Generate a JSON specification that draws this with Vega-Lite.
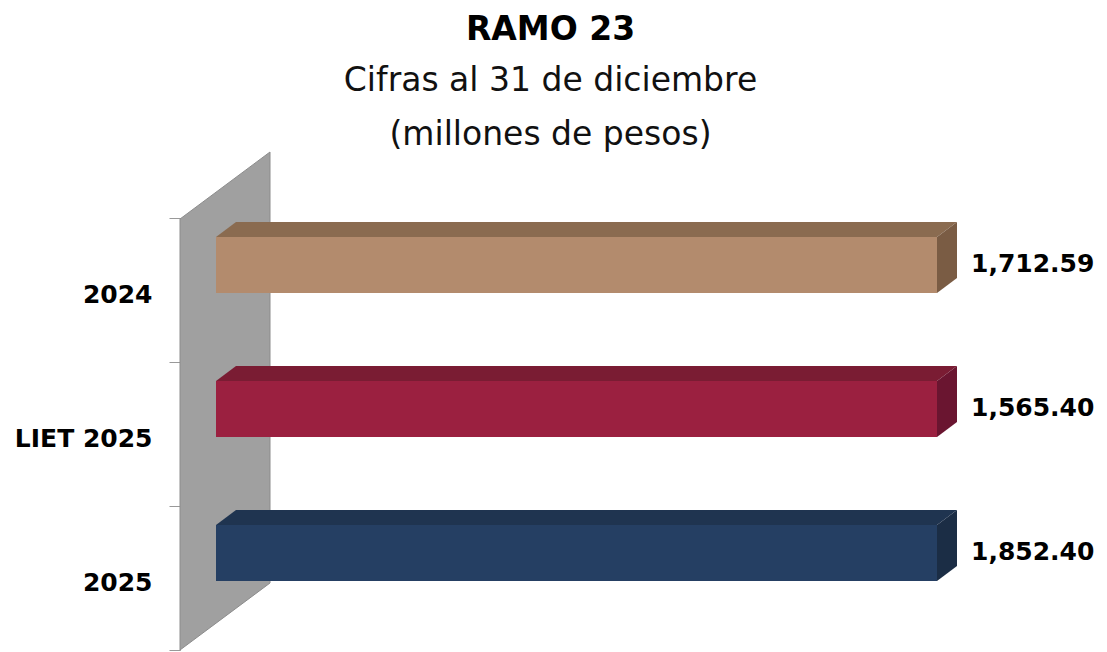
{
  "$schema": "https://vega.github.io/schema/vega-lite/v6.json",
  "width": 721,
  "height": 432,
  "autosize": {"type": "none"},
  "padding": {"left": 216, "top": 218, "right": 170, "bottom": 2},
  "background": "white",
  "config": {"view": {"stroke": null}, "font": "DejaVu Sans"},
  "title": {
    "text": "RAMO 23",
    "subtitle": ["Cifras al 31 de diciembre", "(millones de pesos)"],
    "anchor": "middle",
    "frame": "group",
    "dx": -26,
    "font": "DejaVu Sans",
    "fontSize": 33,
    "fontWeight": "bold",
    "color": "#000000",
    "subtitleFont": "DejaVu Sans",
    "subtitleFontSize": 33,
    "subtitleColor": "#111111",
    "subtitleLineHeight": 54,
    "subtitlePadding": 18,
    "offset": -2
  },
  "data": {
    "values": [
      {"periodo": "2024", "monto": 1712.59},
      {"periodo": "LIET 2025", "monto": 1565.40},
      {"periodo": "2025", "monto": 1852.40}
    ]
  },
  "encoding": {
    "y": {
      "field": "periodo",
      "type": "nominal",
      "scale": {"domain": ["2024", "LIET 2025", "2025"], "paddingInner": 0, "paddingOuter": 0},
      "axis": {
        "title": null,
        "offset": 36,
        "tickBand": "extent",
        "tickSize": 11,
        "tickColor": "#999999",
        "domainColor": "#8C8C8C",
        "domainWidth": 1,
        "labelFont": "DejaVu Sans",
        "labelFontSize": 25,
        "labelFontWeight": "bold",
        "labelColor": "#000000",
        "labelPadding": 17,
        "labelOffset": 4,
        "labelBaseline": "middle"
      }
    }
  },
  "layer": [
    {
      "transform": [{"filter": "datum.periodo === '2024'"}],
      "mark": {"type": "point", "shape": "M-36,-71L54,-138L54,293L-36,360Z", "size": 4, "filled": true, "fill": "#A0A0A0", "opacity": 1, "stroke": "#8C8C8C", "strokeWidth": 1},
      "encoding": {
        "x": {"datum": 0, "type": "quantitative", "scale": {"domain": [0, 1], "nice": false, "zero": false}, "axis": null}
      }
    },
    {
      "mark": {"type": "bar", "height": 56, "yOffset": -25},
      "encoding": {
        "color": {
          "field": "periodo",
          "type": "nominal",
          "scale": {"domain": ["2024", "LIET 2025", "2025"], "range": ["#B38B6D", "#9B2040", "#253F63"]},
          "legend": null
        }
      }
    },
    {
      "mark": {"type": "point", "shape": "M0,-53L721,-53L741,-68L20,-68Z", "size": 4, "filled": true, "opacity": 1},
      "encoding": {
        "x": {"datum": 0, "type": "quantitative", "scale": {"domain": [0, 1], "nice": false, "zero": false}, "axis": null},
        "color": {
          "field": "periodo",
          "type": "nominal",
          "scale": {"domain": ["2024", "LIET 2025", "2025"], "range": ["#8A6B50", "#7A1C33", "#1F3450"]},
          "legend": null
        }
      }
    },
    {
      "mark": {"type": "point", "shape": "M721,-53L741,-68L741,-12L721,3Z", "size": 4, "filled": true, "opacity": 1},
      "encoding": {
        "x": {"datum": 0, "type": "quantitative", "scale": {"domain": [0, 1], "nice": false, "zero": false}, "axis": null},
        "color": {
          "field": "periodo",
          "type": "nominal",
          "scale": {"domain": ["2024", "LIET 2025", "2025"], "range": ["#7A5C44", "#6A1530", "#1B2D45"]},
          "legend": null
        }
      }
    },
    {
      "mark": {"type": "text", "align": "left", "baseline": "middle", "dx": 34, "yOffset": -26, "font": "DejaVu Sans", "fontWeight": "bold", "fontSize": 25, "color": "#000000"},
      "encoding": {
        "x": {"datum": 1, "type": "quantitative", "scale": {"domain": [0, 1], "nice": false, "zero": false}, "axis": null},
        "text": {"field": "monto", "type": "quantitative", "format": ",.2f"}
      }
    }
  ],
  "resolve": {"scale": {"color": "independent"}}
}
